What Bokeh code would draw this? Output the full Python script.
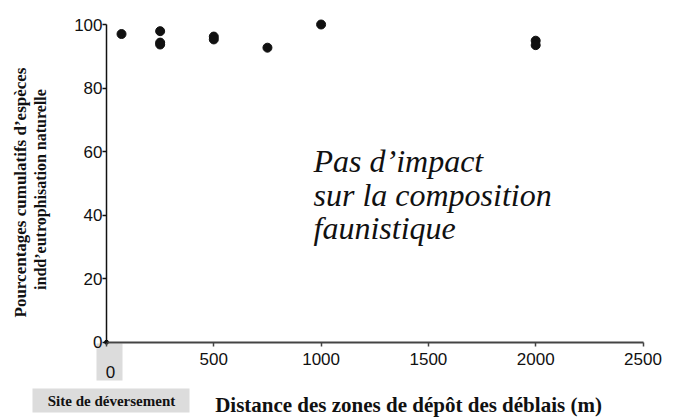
import math
from bokeh.plotting import figure
from bokeh.models import Range1d, FixedTicker, Label, BoxAnnotation
from bokeh.embed import file_html
from bokeh.resources import INLINE

# data
distance_m = [70, 250, 250, 250, 500, 500, 750, 1000, 2000, 2000]
pct_species = [97.0, 97.9, 94.3, 93.7, 96.2, 95.3, 92.7, 100.0, 94.9, 93.5]
origin_x = [0]
origin_y = [0]
x_ticks = [0, 500, 1000, 1500, 2000, 2500]
y_ticks = [0, 20, 40, 60, 80, 100]

SERIF = "Liberation Serif"
SANS = "Liberation Sans"

W, H = 684, 417
# pixel placement of the axes (layout only)
X0_PX, X1_PX = 106.0, 642.5      # x = 0 and x = 2500
Y0_PX, Y1_PX = 341.7, 24.0       # y = 0 and y = 100
sx = (X1_PX - X0_PX) / 2500.0
sy = (Y0_PX - Y1_PX) / 100.0
x_lo = -X0_PX / sx
x_hi = (W - X0_PX) / sx
y_hi = Y0_PX / sy
y_lo = -(H - Y0_PX) / sy

p = figure(width=W, height=H, output_backend="svg", toolbar_location=None,
           x_range=Range1d(x_lo, x_hi), y_range=Range1d(y_lo, y_hi),
           min_border_left=0, min_border_right=0, min_border_top=0, min_border_bottom=0)
p.outline_line_color = None
p.xgrid.visible = False
p.ygrid.visible = False
p.background_fill_color = "white"

xa = p.xaxis[0]
xa.fixed_location = 0
xa.bounds = (0, 2500)
xa.ticker = FixedTicker(ticks=x_ticks)
xa.major_label_overrides = {0: ""}
xa.axis_line_color = "#444444"
xa.axis_line_width = 2
xa.major_tick_line_color = "#444444"
xa.major_tick_line_width = 1.5
xa.major_tick_out = 4
xa.major_tick_in = 0
xa.minor_tick_line_color = None
xa.major_label_text_font = SANS
xa.major_label_text_font_size = "17px"
xa.major_label_text_color = "#111111"
xa.major_label_standoff = 7

ya = p.yaxis[0]
ya.fixed_location = 0
ya.bounds = (0, 100)
ya.ticker = FixedTicker(ticks=y_ticks)
ya.axis_line_color = "#111111"
ya.axis_line_width = 1.5
ya.major_tick_line_color = "#111111"
ya.major_tick_line_width = 1.5
ya.major_tick_out = 4
ya.major_tick_in = 0
ya.minor_tick_line_color = None
ya.major_label_text_font = SANS
ya.major_label_text_font_size = "17px"
ya.major_label_text_color = "#111111"
ya.major_label_standoff = 0

def box(left, right, top, bottom, color="#dcdcdc"):
    p.add_layout(BoxAnnotation(left=left, right=right, top=H - top, bottom=H - bottom,
                               left_units="screen", right_units="screen",
                               top_units="screen", bottom_units="screen",
                               fill_color=color, fill_alpha=1, line_color=None,
                               level="underlay"))

def lab(text, px, py, font, size, style="normal", align="center", baseline="middle", angle=0.0):
    p.add_layout(Label(x=px, y=H - py, x_units="screen", y_units="screen", text=text,
                       text_font=font, text_font_size=size, text_font_style=style,
                       text_align=align, text_baseline=baseline, angle=angle,
                       text_color="#111111"))

box(96, 122, 343, 380)
box(32, 189, 388, 412)

p.scatter(distance_m, pct_species, size=9, color="#111111")
p.scatter(origin_x, origin_y, size=4, color="#111111")

lab("0", 110, 371.5, SANS, "17px")
lab("Site de déversement", 111, 400, SERIF, "15px", style="bold")
lab("Distance des zones de dépôt des déblais (m)", 408, 404, SERIF, "21px", style="bold")
lab("Pourcentages cumulatifs d’espèces", 20, 192, SERIF, "17px", style="bold", angle=math.pi / 2)
lab("indd’eutrophisation naturelle", 40, 189, SERIF, "16px", style="bold", angle=math.pi / 2)

lab("Pas d’impact", 313, 160, SERIF, "32px", style="italic", align="left", baseline="alphabetic")
lab("sur la composition", 313, 194, SERIF, "32px", style="italic", align="left", baseline="alphabetic")
lab("faunistique", 313, 227, SERIF, "32px", style="italic", align="left", baseline="alphabetic")

open("out.html", "w").write(file_html(p, INLINE))
